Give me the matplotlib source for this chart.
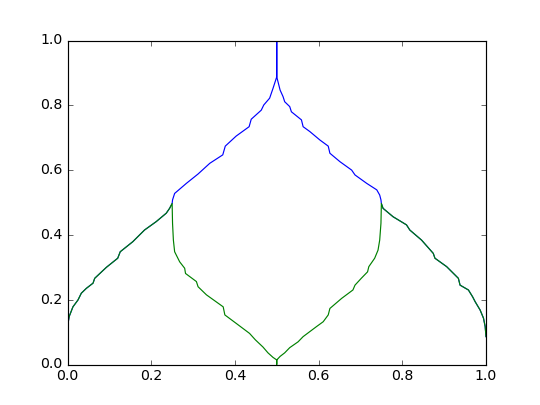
import matplotlib
matplotlib.use("Agg")
import matplotlib.pyplot as plt
import numpy as np

plt.style.use("classic")

# Shared outer branches
outer_left_x = [0.000, 0.001, 0.004, 0.013, 0.025, 0.033, 0.045, 0.061, 0.065, 0.093, 0.120, 0.126,
                0.156, 0.184, 0.212, 0.236, 0.244, 0.250]
outer_left_y = [0.105, 0.125, 0.148, 0.178, 0.199, 0.220, 0.235, 0.251, 0.266, 0.300, 0.328, 0.348,
                0.379, 0.415, 0.441, 0.467, 0.482, 0.497]

outer_right_x = [0.750, 0.754, 0.778, 0.810, 0.818, 0.846, 0.874, 0.878, 0.906, 0.934, 0.938,
                 0.958, 0.968, 0.974, 0.986, 0.994, 0.998, 1.000]
outer_right_y = [0.497, 0.482, 0.456, 0.431, 0.415, 0.384, 0.343, 0.328, 0.302, 0.266, 0.245,
                 0.230, 0.209, 0.194, 0.168, 0.143, 0.117, 0.086]

# Blue upper arc
arc_left_x = [0.250, 0.251, 0.256, 0.284, 0.312, 0.340, 0.371, 0.377, 0.403, 0.434, 0.439,
              0.463, 0.469, 0.483, 0.491, 0.500, 0.500]
arc_left_y = [0.497, 0.508, 0.528, 0.559, 0.588, 0.621, 0.647, 0.674, 0.705, 0.734, 0.757,
              0.785, 0.801, 0.822, 0.852, 0.888, 1.000]

arc_right_x = [0.500, 0.500, 0.508, 0.515, 0.519, 0.531, 0.535, 0.559, 0.563, 0.579, 0.603,
               0.623, 0.627, 0.651, 0.679, 0.687, 0.715, 0.739, 0.746, 0.749, 0.750]
arc_right_y = [1.000, 0.888, 0.847, 0.827, 0.811, 0.796, 0.780, 0.755, 0.734, 0.719, 0.693,
               0.674, 0.652, 0.626, 0.600, 0.585, 0.559, 0.539, 0.523, 0.508, 0.497]

# Green lower V
inner_left_x = [0.250, 0.251, 0.253, 0.256, 0.268, 0.280, 0.282, 0.308, 0.312, 0.332, 0.372,
                0.376, 0.403, 0.435, 0.449, 0.467, 0.479, 0.491, 0.500, 0.500]
inner_left_y = [0.497, 0.436, 0.384, 0.348, 0.317, 0.297, 0.281, 0.256, 0.240, 0.215, 0.178,
                0.153, 0.127, 0.096, 0.076, 0.054, 0.036, 0.022, 0.014, 0.000]

inner_right_x = [0.500, 0.500, 0.508, 0.519, 0.531, 0.551, 0.563, 0.595, 0.611, 0.623, 0.627,
                 0.655, 0.682, 0.687, 0.702, 0.717, 0.720, 0.734, 0.742, 0.746, 0.749, 0.750]
inner_right_y = [0.000, 0.014, 0.025, 0.036, 0.052, 0.070, 0.086, 0.117, 0.132, 0.153, 0.173,
                 0.204, 0.230, 0.245, 0.266, 0.286, 0.302, 0.328, 0.353, 0.384, 0.436, 0.497]

blue_x = outer_left_x + arc_left_x + arc_right_x + outer_right_x
blue_y = outer_left_y + arc_left_y + arc_right_y + outer_right_y
green_x = outer_left_x + inner_left_x + inner_right_x + outer_right_x
green_y = outer_left_y + inner_left_y + inner_right_y + outer_right_y

fig = plt.figure(figsize=(6.4, 4.8), dpi=84.375, facecolor="white")
ax = fig.add_subplot(111)
ax.plot(blue_x, blue_y, color="b", lw=1.0)
ax.plot(green_x, green_y, color="g", lw=1.0)
ax.set_xlim(0, 1)
ax.set_ylim(0, 1)
ax.set_xticks([0.0, 0.2, 0.4, 0.6, 0.8, 1.0])
ax.set_yticks([0.0, 0.2, 0.4, 0.6, 0.8, 1.0])
fig.savefig("out.png", dpi=84.375, facecolor="white")
